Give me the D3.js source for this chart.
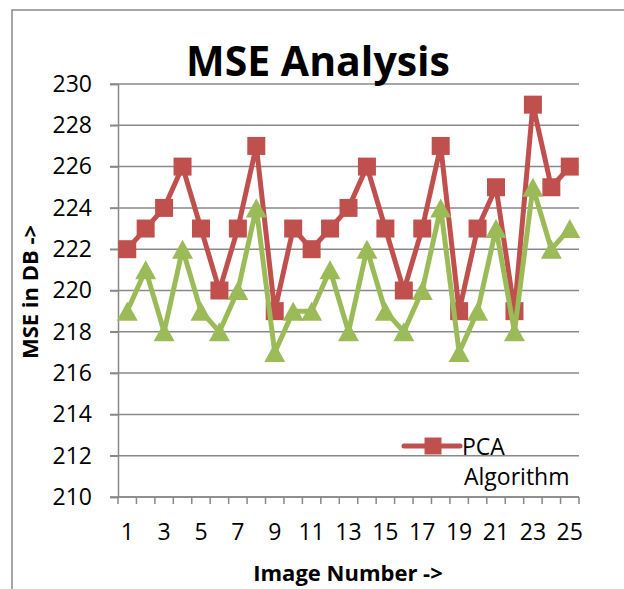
<!DOCTYPE html>
<html>
<head>
<meta charset="utf-8">
<script src="https://cdn.jsdelivr.net/npm/d3@7"></script>
<style>
  body { margin: 0; background: #fff; }
  svg { display: block; font-family: "Open Sans", sans-serif; }
</style>
</head>
<body>
<svg id="chart" width="624" height="589"></svg>
<script>
// Chart data
var imageNumbers = d3.range(1, 26)
var pcaValues = [222, 223, 224, 226, 223, 220, 223, 227, 219, 223, 222, 223, 224,
                 226, 223, 220, 223, 227, 219, 223, 225, 219, 229, 225, 226]
var otherValues = [219, 221, 218, 222, 219, 218, 220, 224, 217, 219, 219, 221, 218,
                   222, 219, 218, 220, 224, 217, 219, 223, 218, 225, 222, 223]
var yTicks = d3.range(210, 231, 2)
var xLabels = imageNumbers.filter(function(d) { return d % 2 === 1 })

var red = "#C0504D"
var green = "#9BBB59"
var grid = "#898989"

var svg = d3.select("#chart")

// outer chart frame (only top and left edges are visible)
svg.append("path")
	.attr("d", "M12,589V10H624")
	.attr("fill", "none")
	.attr("stroke", grid)
	.attr("stroke-width", 1.5)

var x = d3.scaleBand().domain(imageNumbers).range([118, 579])
var y = d3.scaleLinear().domain([210, 230]).range([497, 84])

// Gridlines
svg.append("g")
	.selectAll("line")
	.data(yTicks)
	.enter().append("line")
	.attr("x1", 110).attr("x2", 579)
	.attr("y1", function(d) { return y(d) })
	.attr("y2", function(d) { return y(d) })
	.attr("stroke", grid)
	.attr("stroke-width", 1.5)

// Y axis
var yAxis = svg.append("g")
	.attr("transform", "translate(118,0)")
	.call(d3.axisLeft(y).tickValues(yTicks).tickSize(8).tickPadding(18))
yAxis.select(".domain").attr("stroke", grid).attr("stroke-width", 1.5)
yAxis.selectAll(".tick line").attr("stroke", grid).attr("stroke-width", 1.5)
yAxis.selectAll("text")
	.attr("font-size", 23).attr("fill", "#000")
	.attr("font-family", "Open Sans")

// X axis: ticks between categories, odd labels only
var xAxis = svg.append("g").attr("transform", "translate(0,497)")
xAxis.append("line")
	.attr("x1", 118).attr("x2", 579)
	.attr("stroke", grid).attr("stroke-width", 1.5)
xAxis.selectAll(".xt")
	.data(imageNumbers.concat([26]))
	.enter().append("line")
	.attr("class", "xt")
	.attr("x1", function(d) { return d === 26 ? 579 : x(d) })
	.attr("x2", function(d) { return d === 26 ? 579 : x(d) })
	.attr("y1", 0).attr("y2", 7)
	.attr("stroke", grid).attr("stroke-width", 1.5)
xAxis.selectAll(".xl")
	.data(xLabels)
	.enter().append("text")
	.attr("class", "xl")
	.attr("x", function(d) { return x(d) + x.bandwidth() / 2 })
	.attr("y", 43)
	.attr("text-anchor", "middle")
	.attr("font-size", 23)
	.text(function(d) { return d })

// Titles
svg.append("text")
	.attr("x", 318).attr("y", 76)
	.attr("text-anchor", "middle")
	.attr("font-size", 41).attr("font-weight", "bold")
	.text("MSE Analysis")
svg.append("text")
	.attr("x", 348).attr("y", 581)
	.attr("text-anchor", "middle")
	.attr("font-size", 22).attr("font-weight", "bold")
	.text("Image Number ->")
svg.append("text")
	.attr("transform", "translate(38,292) rotate(-90)")
	.attr("text-anchor", "middle")
	.attr("font-size", 22).attr("font-weight", "bold")
	.text("MSE in DB ->")

var cx = function(i) { return x(imageNumbers[i]) + x.bandwidth() / 2 }
var line = d3.line()
	.x(function(d, i) { return cx(i) })
	.y(function(d) { return y(d) })

function trianglePath(w, h) {
	return "M0," + (-h / 2) + "L" + (w / 2) + "," + (h / 2) + "L" + (-w / 2) + "," + (h / 2) + "Z"
}

// PCA series (red squares)
svg.append("path")
	.attr("d", line(pcaValues))
	.attr("fill", "none").attr("stroke", red)
	.attr("stroke-width", 5).attr("stroke-linejoin", "round")
svg.append("g").selectAll("path")
	.data(pcaValues)
	.enter().append("path")
	.attr("d", d3.symbol().type(d3.symbolSquare).size(18 * 18))
	.attr("transform", function(d, i) { return "translate(" + cx(i) + "," + y(d) + ")" })
	.attr("fill", red)

// second series (green triangles), drawn on top
svg.append("path")
	.attr("d", line(otherValues))
	.attr("fill", "none").attr("stroke", green)
	.attr("stroke-width", 5).attr("stroke-linejoin", "round")
svg.append("g").selectAll("path")
	.data(otherValues)
	.enter().append("path")
	.attr("d", trianglePath(21, 19))
	.attr("transform", function(d, i) { return "translate(" + cx(i) + "," + y(d) + ")" })
	.attr("fill", green)

// Legend (only the PCA entry fits in the frame)
var legend = svg.append("g").attr("transform", "translate(404,446)")
legend.append("line")
	.attr("x1", 0).attr("x2", 56)
	.attr("stroke", red).attr("stroke-width", 5).attr("stroke-linecap", "round")
legend.append("path")
	.attr("d", d3.symbol().type(d3.symbolSquare).size(17 * 17))
	.attr("transform", "translate(29,0)")
	.attr("fill", red)
legend.append("text")
	.attr("x", 58).attr("y", 9)
	.attr("font-size", 23)
	.text("PCA")
legend.append("text")
	.attr("x", 60).attr("y", 39)
	.attr("font-size", 23)
	.text("Algorithm")
</script>
</body>
</html>
